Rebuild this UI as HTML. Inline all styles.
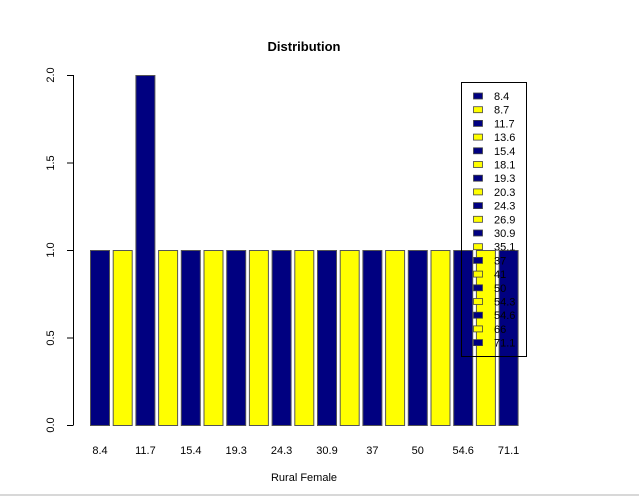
<!DOCTYPE html>
<html><head><meta charset="utf-8"><style>html,body{margin:0;padding:0;background:#fff}svg{display:block}</style></head>
<body>
<svg width="639" height="497" xmlns="http://www.w3.org/2000/svg" font-family="Liberation Sans, Arial, sans-serif">
<rect width="639" height="497" fill="#fff"/>
<text x="304" y="51" font-size="13" font-weight="bold" text-anchor="middle">Distribution</text>
<!-- y axis -->
<g stroke="#000" stroke-width="1">
<line x1="73.5" y1="75" x2="73.5" y2="425"/>
<line x1="67" y1="75.5" x2="73.5" y2="75.5"/>
<line x1="67" y1="163" x2="73.5" y2="163"/>
<line x1="67" y1="250.5" x2="73.5" y2="250.5"/>
<line x1="67" y1="338" x2="73.5" y2="338"/>
<line x1="67" y1="425.5" x2="73.5" y2="425.5"/>
</g>
<g font-size="11" text-anchor="middle">
<text transform="translate(54,75) rotate(-90)">2.0</text>
<text transform="translate(54,163) rotate(-90)">1.5</text>
<text transform="translate(54,250) rotate(-90)">1.0</text>
<text transform="translate(54,338) rotate(-90)">0.5</text>
<text transform="translate(54,425) rotate(-90)">0.0</text>
</g>
<!-- legend background -->
<rect x="461.5" y="82.5" width="65" height="274" fill="#fff"/>
<!-- bars -->
<g stroke="#555" stroke-width="1">
<rect x="90.5" y="250.5" width="19" height="175" fill="#000080"/>
<rect x="113.2" y="250.5" width="19" height="175" fill="#ffff00"/>
<rect x="135.9" y="75.5" width="19" height="350" fill="#000080"/>
<rect x="158.6" y="250.5" width="19" height="175" fill="#ffff00"/>
<rect x="181.3" y="250.5" width="19" height="175" fill="#000080"/>
<rect x="204" y="250.5" width="19" height="175" fill="#ffff00"/>
<rect x="226.7" y="250.5" width="19" height="175" fill="#000080"/>
<rect x="249.4" y="250.5" width="19" height="175" fill="#ffff00"/>
<rect x="272.1" y="250.5" width="19" height="175" fill="#000080"/>
<rect x="294.8" y="250.5" width="19" height="175" fill="#ffff00"/>
<rect x="317.5" y="250.5" width="19" height="175" fill="#000080"/>
<rect x="340.2" y="250.5" width="19" height="175" fill="#ffff00"/>
<rect x="362.9" y="250.5" width="19" height="175" fill="#000080"/>
<rect x="385.6" y="250.5" width="19" height="175" fill="#ffff00"/>
<rect x="408.3" y="250.5" width="19" height="175" fill="#000080"/>
<rect x="431" y="250.5" width="19" height="175" fill="#ffff00"/>
<rect x="453.7" y="250.5" width="19" height="175" fill="#000080"/>
<rect x="476.4" y="250.5" width="19" height="175" fill="#ffff00"/>
<rect x="499.1" y="250.5" width="19" height="175" fill="#000080"/>
</g>
<!-- legend -->
<rect x="461.5" y="82.5" width="65" height="274" fill="none" stroke="#000"/>
<g stroke="#444" stroke-width="0.8">
<rect x="473.5" y="93" width="9" height="6" fill="#000080"/>
<rect x="473.5" y="106.7" width="9" height="6" fill="#ffff00"/>
<rect x="473.5" y="120.4" width="9" height="6" fill="#000080"/>
<rect x="473.5" y="134.1" width="9" height="6" fill="#ffff00"/>
<rect x="473.5" y="147.8" width="9" height="6" fill="#000080"/>
<rect x="473.5" y="161.5" width="9" height="6" fill="#ffff00"/>
<rect x="473.5" y="175.2" width="9" height="6" fill="#000080"/>
<rect x="473.5" y="188.9" width="9" height="6" fill="#ffff00"/>
<rect x="473.5" y="202.6" width="9" height="6" fill="#000080"/>
<rect x="473.5" y="216.3" width="9" height="6" fill="#ffff00"/>
<rect x="473.5" y="230" width="9" height="6" fill="#000080"/>
<rect x="473.5" y="243.7" width="9" height="6" fill="#ffff00"/>
<rect x="473.5" y="257.4" width="9" height="6" fill="#000080"/>
<rect x="473.5" y="271.1" width="9" height="6" fill="#ffff00"/>
<rect x="473.5" y="284.8" width="9" height="6" fill="#000080"/>
<rect x="473.5" y="298.5" width="9" height="6" fill="#ffff00"/>
<rect x="473.5" y="312.2" width="9" height="6" fill="#000080"/>
<rect x="473.5" y="325.9" width="9" height="6" fill="#ffff00"/>
<rect x="473.5" y="339.6" width="9" height="6" fill="#000080"/>
</g>
<g font-size="11" fill="#000">
<text x="494" y="100">8.4</text>
<text x="494" y="113.7">8.7</text>
<text x="494" y="127.4">11.7</text>
<text x="494" y="141.1">13.6</text>
<text x="494" y="154.8">15.4</text>
<text x="494" y="168.5">18.1</text>
<text x="494" y="182.2">19.3</text>
<text x="494" y="195.9">20.3</text>
<text x="494" y="209.6">24.3</text>
<text x="494" y="223.3">26.9</text>
<text x="494" y="237">30.9</text>
<text x="494" y="250.7">35.1</text>
<text x="494" y="264.4">37</text>
<text x="494" y="278.1">41</text>
<text x="494" y="291.8">50</text>
<text x="494" y="305.5">54.3</text>
<text x="494" y="319.2">54.6</text>
<text x="494" y="332.9">66</text>
<text x="494" y="346.6">71.1</text>
</g>
<!-- x labels -->
<g font-size="11" text-anchor="middle">
<text x="100" y="454">8.4</text>
<text x="145.4" y="454">11.7</text>
<text x="190.8" y="454">15.4</text>
<text x="236.2" y="454">19.3</text>
<text x="281.6" y="454">24.3</text>
<text x="327" y="454">30.9</text>
<text x="372.4" y="454">37</text>
<text x="417.8" y="454">50</text>
<text x="463.2" y="454">54.6</text>
<text x="508.6" y="454">71.1</text>
</g>
<text x="304" y="481" font-size="11" text-anchor="middle">Rural Female</text>
<line x1="0" y1="495" x2="639" y2="495" stroke="#ccc" stroke-width="1.5"/>
</svg>
</body></html>
